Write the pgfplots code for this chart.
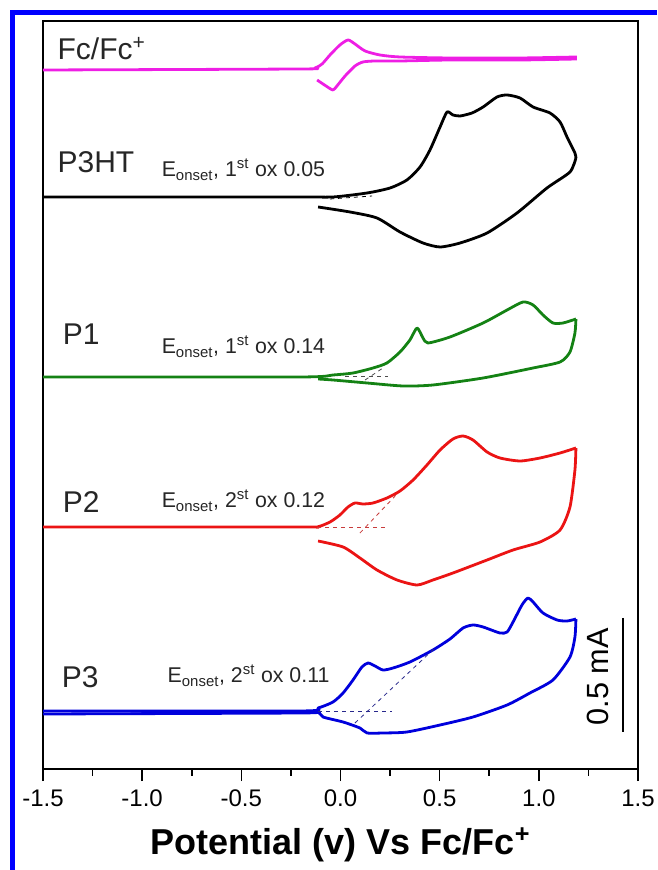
\documentclass[border=0pt]{standalone}
\usepackage{pgfplots}
\pgfplotsset{compat=1.18}
\usepackage{fontspec}
\setmainfont{Liberation Sans}
\definecolor{fcpink}{RGB}{238,30,228}
\definecolor{pgreen}{RGB}{20,130,20}
\definecolor{pred}{RGB}{235,20,20}
\definecolor{pblue}{RGB}{0,0,220}
\definecolor{dred}{RGB}{200,60,60}
\definecolor{dnavy}{RGB}{40,40,140}
\begin{document}
\begin{tikzpicture}[x=1pt,y=1pt]
\path[use as bounding box] (0,0) rectangle (492.75,652.5);
\begin{axis}[
  at={(32.25pt,75.75pt)}, anchor=south west,
  scale only axis, width=446.25pt, height=561pt,
  xmin=-1.5, xmax=1.5, ymin=101, ymax=849,
  ytick=\empty,
  xtick={-1.5,-1.0,-0.5,0,0.5,1.0,1.5},
  minor x tick num=1,
  xtick pos=left,
  tick align=outside,
  major tick length=9pt, minor tick length=5pt,
  every tick/.style={black, line width=1.2pt},
  axis line style={line width=1.2pt},
  /pgf/number format/assume math mode=true,
  xticklabel style={font=\fontsize{18}{20}\selectfont, yshift=-3pt, /pgf/number format/.cd, fixed, fixed zerofill, precision=1},
  xlabel={Potential (v) Vs Fc/Fc\textsuperscript{+}},
  xlabel style={font=\fontsize{27}{30}\selectfont\bfseries, at={(axis description cs:0.5,-0.1016)}, anchor=center},
  every axis plot/.append style={line width=2.1pt, line join=round},
  clip=false,
]
% Fc/Fc+
\addplot[fcpink, smooth, tension=0.4] coordinates {(-1.500,800) (-0.204,801) (-0.129,802) (-0.093,806) (-0.053,815) (-0.003,825) (0.038,830) (0.073,826) (0.124,819) (0.199,815) (0.300,813) (0.552,812) (0.905,812) (1.192,813)};
\addplot[fcpink, smooth, tension=0.4] coordinates {(1.192,811) (0.905,810) (0.552,810) (0.300,809) (0.174,809) (0.113,808) (0.073,804) (0.023,794) (-0.018,784) (-0.038,780) (-0.073,784) (-0.118,790)};
% P3HT
\addplot[black, smooth, tension=0.4] coordinates {(-1.500,673) (-0.204,673) (-0.038,673) (0.134,677) (0.250,682) (0.335,690) (0.401,703) (0.451,720) (0.502,743) (0.537,758) (0.567,755) (0.603,754) (0.663,757) (0.719,763) (0.789,773) (0.840,775) (0.905,772) (0.971,763) (1.056,757) (1.107,748) (1.142,733) (1.182,717) (1.187,712)};
\addplot[black, smooth, tension=0.4] coordinates {(1.187,712) (1.157,698) (1.041,682) (0.890,657) (0.739,637) (0.603,627) (0.502,623) (0.416,627) (0.300,638) (0.184,652) (0.048,658) (-0.113,663)};
\addplot[black, line width=0.6pt, dashed] coordinates {(-0.053,671) (0.159,674)};
% P1
\addplot[pgreen, smooth, tension=0.4] coordinates {(-1.500,493) (-0.204,493) (-0.038,495) (0.063,497) (0.164,502) (0.234,507) (0.300,518) (0.350,530) (0.386,542) (0.416,532) (0.441,527) (0.552,533) (0.719,547) (0.840,560) (0.920,568) (0.971,565) (1.021,555) (1.071,547) (1.122,547) (1.187,551)};
\addplot[pgreen, smooth, tension=0.4] coordinates {(1.187,551) (1.182,537) (1.157,518) (1.107,508) (0.971,502) (0.719,492) (0.466,485) (0.315,484) (0.134,487) (-0.038,490) (-0.113,491)};
\addplot[black!70, line width=0.6pt, dashed] coordinates {(0.023,494) (0.240,494)};
\addplot[black!70, line width=0.6pt, dashed] coordinates {(0.124,490) (0.214,502)};
% P2
\addplot[pred, smooth, tension=0.4] coordinates {(-1.500,343) (-0.204,343) (-0.118,343) (-0.053,348) (-0.003,355) (0.038,363) (0.073,367) (0.113,366) (0.164,367) (0.234,372) (0.300,379) (0.366,390) (0.436,405) (0.502,420) (0.567,431) (0.618,434) (0.668,430) (0.739,418) (0.804,412) (0.905,409) (1.006,412) (1.107,417) (1.187,422)};
\addplot[pred, smooth, tension=0.4] coordinates {(1.187,422) (1.182,400) (1.157,363) (1.107,340) (1.006,328) (0.870,320) (0.739,310) (0.567,297) (0.466,290) (0.386,285) (0.285,290) (0.184,300) (0.098,312) (0.013,323) (-0.113,329)};
\addplot[dred, line width=0.6pt, dashed] coordinates {(-0.118,343) (0.240,343)};
\addplot[dred, line width=0.6pt, dashed] coordinates {(0.098,337) (0.290,377)};
% P3
\addplot[pblue, smooth, tension=0.4] coordinates {(-1.500,159) (-0.204,159) (-0.113,162) (-0.038,168) (0.013,177) (0.063,190) (0.108,203) (0.139,207) (0.174,204) (0.214,200) (0.265,202) (0.350,208) (0.466,220) (0.552,231) (0.618,242) (0.668,245) (0.719,243) (0.804,237) (0.840,238) (0.870,248) (0.915,265) (0.945,272) (0.971,268) (1.021,257) (1.092,250) (1.142,249) (1.187,251)};
\addplot[pblue, smooth, tension=0.4] coordinates {(1.187,251) (1.182,233) (1.157,213) (1.071,190) (0.955,177) (0.840,165) (0.668,153) (0.502,145) (0.335,138) (0.214,137) (0.134,137) (0.098,142) (0.013,148) (-0.088,153) (-0.113,158) (-0.204,157) (-1.500,156)};
\addplot[dnavy, line width=0.6pt, dashed] coordinates {(-0.113,159) (0.260,159)};
\addplot[dnavy, line width=0.6pt, dashed] coordinates {(0.073,147) (0.476,222)};
% labels
\node[anchor=base west, font=\fontsize{22.5}{25}\selectfont, text=black!85] at (axis cs:-1.450,810) {Fc/Fc\textsuperscript{+}};
\node[anchor=base west, font=\fontsize{22.5}{25}\selectfont, text=black!85] at (axis cs:-1.450,697) {P3HT};
\node[anchor=base west, font=\fontsize{22.5}{25}\selectfont, text=black!85] at (axis cs:-1.424,525) {P1};
\node[anchor=base west, font=\fontsize{22.5}{25}\selectfont, text=black!85] at (axis cs:-1.424,357) {P2};
\node[anchor=base west, font=\fontsize{22.5}{25}\selectfont, text=black!85] at (axis cs:-1.429,182) {P3};
\node[anchor=base west, font=\fontsize{16}{18}\selectfont, text=black!85] at (axis cs:-0.925,693) {E\textsubscript{onset}, 1\textsuperscript{st} ox 0.05};
\node[anchor=base west, font=\fontsize{16}{18}\selectfont, text=black!85] at (axis cs:-0.925,516) {E\textsubscript{onset}, 1\textsuperscript{st} ox 0.14};
\node[anchor=base west, font=\fontsize{16}{18}\selectfont, text=black!85] at (axis cs:-0.925,362) {E\textsubscript{onset}, 2\textsuperscript{st} ox 0.12};
\node[anchor=base west, font=\fontsize{16}{18}\selectfont, text=black!85] at (axis cs:-0.895,187) {E\textsubscript{onset}, 2\textsuperscript{st} ox 0.11};
% scale bar
\draw[line width=1.5pt] (axis cs:1.424,252) -- (axis cs:1.424,138);
\node[rotate=90, font=\fontsize{23}{25}\selectfont] at (axis cs:1.298,193) {0.5 mA};
\end{axis}
\draw[color={rgb,255:red,0;green,0;blue,255}, line width=3.75pt, line join=miter] (9.375,0) -- (9.375,643.125) -- (492.75,643.125);
\end{tikzpicture}
\end{document}
